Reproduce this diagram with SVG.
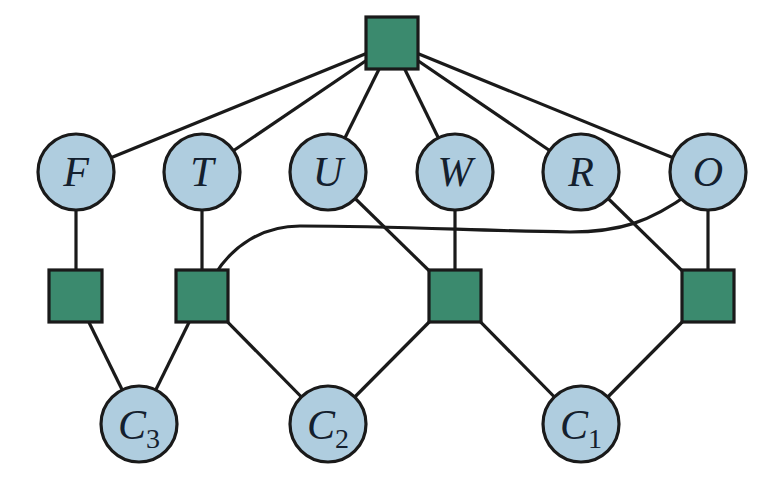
<svg xmlns="http://www.w3.org/2000/svg" width="770" height="484" viewBox="0 0 770 484">
<style>
.c{fill:#afcddf;stroke:#1a1a1a;stroke-width:3.2}
.s{fill:#3b8a6e;stroke:#1a1a1a;stroke-width:3.2}
.e{stroke:#1a1a1a;stroke-width:3.2;fill:none}
.t{font-family:"Liberation Serif",serif;font-style:italic;font-size:42px;fill:#14202e;text-anchor:middle}
.sub{font-style:normal;font-size:28px}
</style>
<rect width="770" height="484" fill="#ffffff"/>
<g id="connectors">
<line class="e" x1="392" y1="43" x2="76" y2="172"/>
<line class="e" x1="392" y1="43" x2="202" y2="172"/>
<line class="e" x1="392" y1="43" x2="328" y2="172"/>
<line class="e" x1="392" y1="43" x2="455" y2="172"/>
<line class="e" x1="392" y1="43" x2="581" y2="172"/>
<line class="e" x1="392" y1="43" x2="708" y2="172"/>
<line class="e" x1="76" y1="172" x2="76" y2="296"/>
<line class="e" x1="202" y1="172" x2="202" y2="296"/>
<line class="e" x1="455" y1="172" x2="455" y2="296"/>
<line class="e" x1="708" y1="172" x2="708" y2="296"/>
<line class="e" x1="328" y1="172" x2="455" y2="296"/>
<line class="e" x1="581" y1="172" x2="708" y2="296"/>
<path class="e" d="M 690 193 C 650 222, 620 232, 570 232 C 480 231, 400 226, 300 226 C 262 226, 232 246, 214 276"/>
<line class="e" x1="76" y1="296" x2="139" y2="424"/>
<line class="e" x1="202" y1="296" x2="139" y2="424"/>
<line class="e" x1="202" y1="296" x2="328" y2="424"/>
<line class="e" x1="455" y1="296" x2="328" y2="424"/>
<line class="e" x1="455" y1="296" x2="581" y2="424"/>
<line class="e" x1="708" y1="296" x2="581" y2="424"/>
</g>
<g id="f0"><rect class="s" x="366" y="17" width="52" height="52"/></g>
<g id="F"><circle class="c" cx="76" cy="172" r="38"/><text class="t" x="76" y="186">F</text></g>
<g id="T"><circle class="c" cx="202" cy="172" r="38"/><text class="t" x="202" y="186">T</text></g>
<g id="U"><circle class="c" cx="328" cy="172" r="38"/><text class="t" x="328" y="186">U</text></g>
<g id="W"><circle class="c" cx="455" cy="172" r="38"/><text class="t" x="455" y="186">W</text></g>
<g id="R"><circle class="c" cx="581" cy="172" r="38"/><text class="t" x="581" y="186">R</text></g>
<g id="O"><circle class="c" cx="708" cy="172" r="38"/><text class="t" x="708" y="186">O</text></g>
<g id="f1"><rect class="s" x="49" y="270" width="53" height="52"/></g>
<g id="f2"><rect class="s" x="176" y="270" width="52" height="52"/></g>
<g id="f3"><rect class="s" x="429" y="270" width="52" height="52"/></g>
<g id="f4"><rect class="s" x="682" y="270" width="52" height="52"/></g>
<g id="C3"><circle class="c" cx="139" cy="424" r="38"/><text class="t" x="139" y="439">C<tspan class="sub" dy="9">3</tspan></text></g>
<g id="C2"><circle class="c" cx="328" cy="424" r="38"/><text class="t" x="328" y="439">C<tspan class="sub" dy="9">2</tspan></text></g>
<g id="C1"><circle class="c" cx="581" cy="424" r="38"/><text class="t" x="581" y="439">C<tspan class="sub" dy="9">1</tspan></text></g>
</svg>
